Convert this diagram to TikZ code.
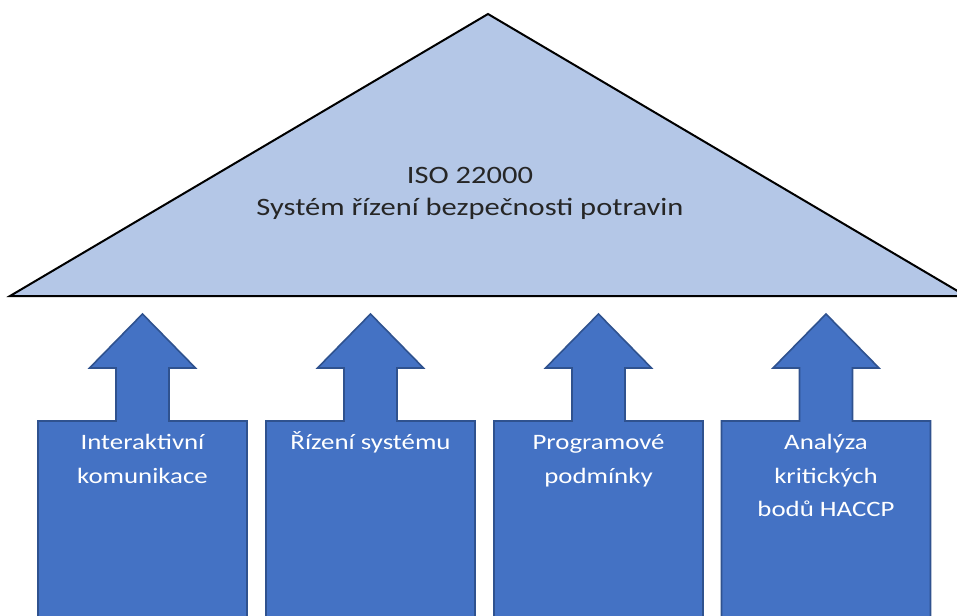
\documentclass[tikz,border=0pt]{standalone}
\usepackage{fontspec}
\setmainfont[FakeStretch=1.22]{Carlito}
\definecolor{roofFill}{HTML}{B4C7E7}
\definecolor{pillarFill}{HTML}{4472C4}
\definecolor{pillarLine}{HTML}{2F528F}
\tikzset{
  roof/.style={fill=roofFill, draw=black, line width=2pt, line join=miter},
  pillar/.style={fill=pillarFill, draw=pillarLine, line width=1.6pt, line join=miter},
  pillartext/.style={text=white, align=center, inner sep=0pt, anchor=base,
    font=\fontsize{22}{33.6}\selectfont},
  rooftext/.style={text=black!85, align=center, inner sep=0pt, anchor=base,
    font=\fontsize{25}{31.7}\selectfont},
}
\begin{document}
\begin{tikzpicture}[x=1pt, y=-1pt]
  \useasboundingbox (0,0) rectangle (957,615);
  \clip (0,0) rectangle (957,615);
  % roof
  \draw[roof] (10,296) -- (488,14) -- (966,296) -- cycle;
  % the base anchor of a multi-line node sits on its last line
  \node[rooftext] (title) at (470,215) {ISO 22000\\Systém řízení bezpečnosti potravin};
  % pillars with upward arrows; \b is the baseline of the last text line
  \foreach \c/\b/\name/\txt in {142.5/483.1/p1/{Interaktivní\\komunikace},
                                370.5/449.5/p2/{Řízení systému},
                                598.5/483.1/p3/{Programové\\podmínky},
                                826/516.7/p4/{Analýza\\kritických\\bodů HACCP}} {
    \draw[pillar] (\c-104.5,625) -- (\c-104.5,421) -- (\c-26.5,421) -- (\c-26.5,368)
      -- (\c-53,368) -- (\c,314) -- (\c+53,368) -- (\c+26.5,368) -- (\c+26.5,421)
      -- (\c+104.5,421) -- (\c+104.5,625) -- cycle;
    \node[pillartext] (\name) at (\c,\b) {\txt};
  }
\end{tikzpicture}
\end{document}
